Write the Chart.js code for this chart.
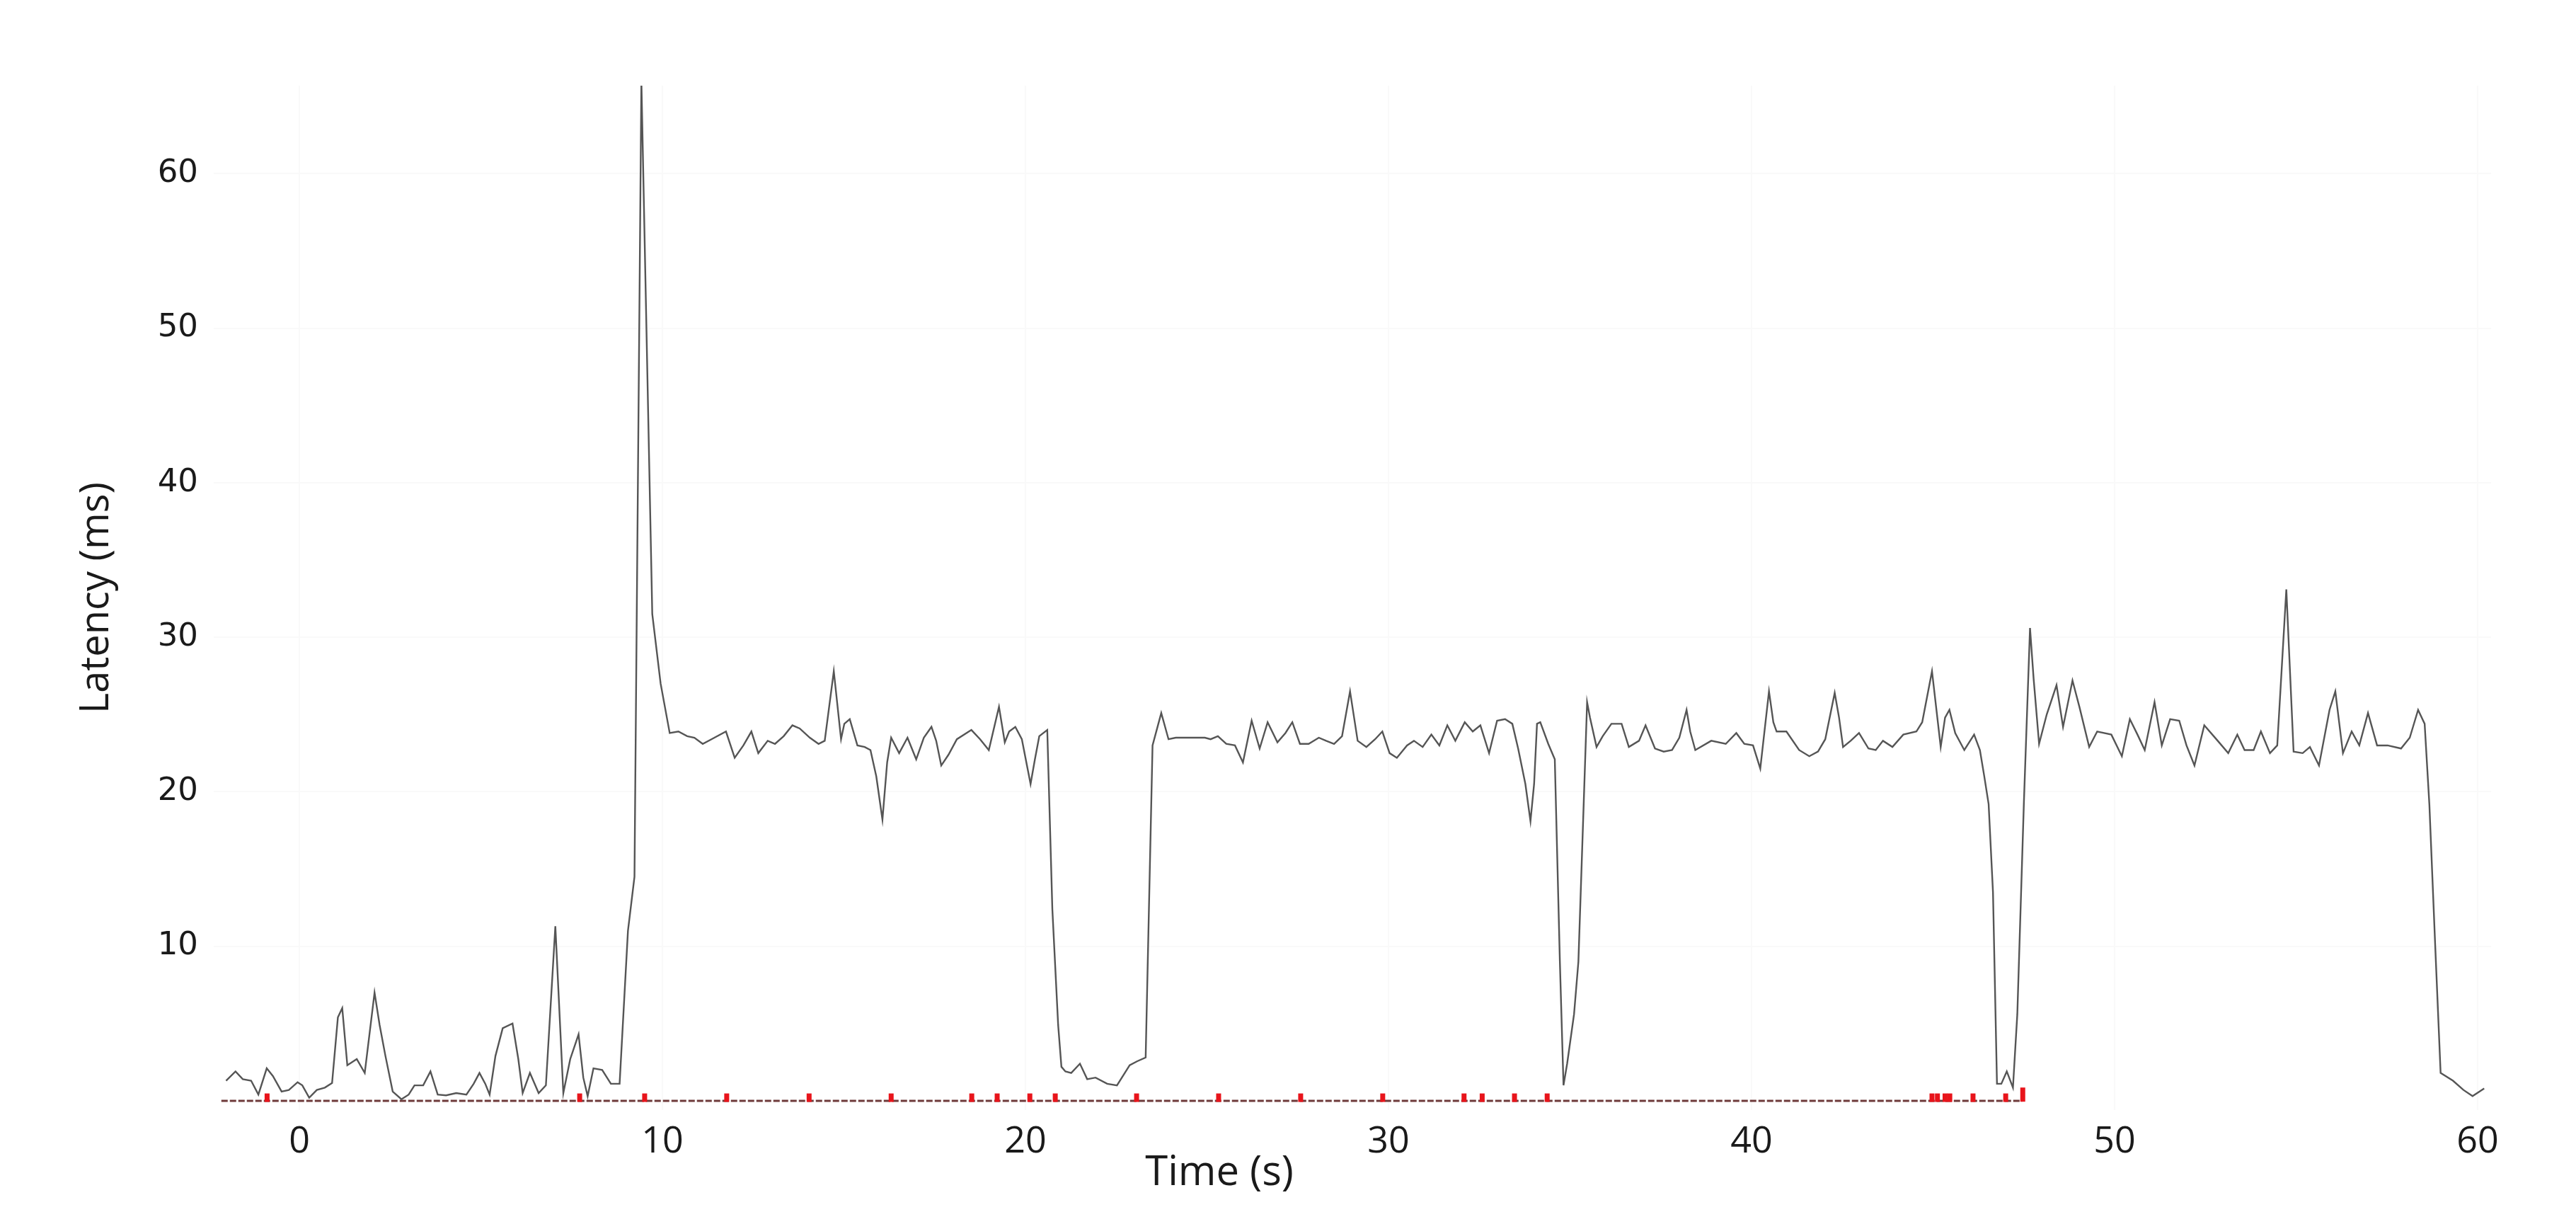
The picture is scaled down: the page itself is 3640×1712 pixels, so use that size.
<!DOCTYPE html>
<html>
<head>
<meta charset="utf-8">
<script src="https://cdn.jsdelivr.net/npm/chart.js@4.4.0/dist/chart.umd.min.js"></script>
<style>
  html, body { margin: 0; padding: 0; background: #ffffff; }
  #wrap { width: 3640px; height: 1712px; position: relative; }
</style>
</head>
<body>
<div id="wrap"><canvas id="c"></canvas></div>
<script>
// ---- Data ----
const xTitle = 'Time (s)';
const yTitle = 'Latency (ms)';
const xTickValues = [0, 10, 20, 30, 40, 50, 60];
const yTickValues = [10, 20, 30, 40, 50, 60];

const times = [
  -2.02, -1.76, -1.56, -1.33, -1.13, -0.90, -0.73, -0.49, -0.29, -0.05, 0.08, 0.27, 0.48, 0.70, 0.90,
  1.06, 1.18, 1.32, 1.58, 1.80, 2.07, 2.21, 2.37, 2.57, 2.81, 3.01, 3.17, 3.41, 3.61, 3.81,
  4.04, 4.32, 4.60, 4.80, 4.96, 5.12, 5.24, 5.40, 5.60, 5.87, 6.03, 6.15, 6.35, 6.59, 6.79,
  7.05, 7.27, 7.46, 7.69, 7.82, 7.94, 8.10, 8.34, 8.58, 8.82, 9.05, 9.23, 9.42, 9.72, 9.95,
  10.20, 10.44, 10.68, 10.88, 11.11, 11.35, 11.75, 11.99, 12.23, 12.45, 12.64, 12.90, 13.10, 13.34, 13.58,
  13.78, 14.06, 14.30, 14.47, 14.72, 14.92, 15.01, 15.16, 15.37, 15.57, 15.73, 15.89, 16.06, 16.19, 16.30,
  16.52, 16.75, 16.99, 17.20, 17.41, 17.54, 17.68, 17.88, 18.11, 18.51, 18.75, 18.99, 19.27, 19.43, 19.55,
  19.72, 19.90, 20.14, 20.26, 20.38, 20.60, 20.74, 20.90, 20.99, 21.10, 21.26, 21.50, 21.70, 21.93, 22.25,
  22.52, 22.87, 23.07, 23.31, 23.50, 23.74, 23.94, 24.14, 24.94, 25.10, 25.30, 25.53, 25.77, 25.99, 26.23,
  26.45, 26.67, 26.94, 27.16, 27.35, 27.56, 27.80, 28.08, 28.28, 28.50, 28.72, 28.94, 29.15, 29.39, 29.63,
  29.83, 30.03, 30.23, 30.51, 30.70, 30.94, 31.18, 31.40, 31.62, 31.84, 32.10, 32.32, 32.53, 32.77, 32.99,
  33.21, 33.41, 33.57, 33.77, 33.91, 34.01, 34.09, 34.18, 34.40, 34.58, 34.72, 34.82, 34.92, 35.11, 35.23,
  35.47, 35.55, 35.73, 35.90, 36.14, 36.42, 36.62, 36.90, 37.08, 37.34, 37.58, 37.81, 38.01, 38.21, 38.31,
  38.45, 38.89, 39.29, 39.58, 39.80, 40.04, 40.24, 40.48, 40.60, 40.69, 40.96, 41.31, 41.59, 41.83, 42.03,
  42.29, 42.41, 42.52, 42.73, 42.96, 43.22, 43.42, 43.62, 43.88, 44.18, 44.54, 44.70, 44.97, 45.21, 45.33,
  45.45, 45.61, 45.86, 46.13, 46.29, 46.41, 46.53, 46.65, 46.76, 46.88, 47.03, 47.20, 47.32, 47.50, 47.67,
  47.77, 47.92, 48.13, 48.40, 48.58, 48.84, 49.03, 49.30, 49.52, 49.91, 50.20, 50.42, 50.63, 50.83, 51.10,
  51.30, 51.53, 51.78, 51.98, 52.20, 52.47, 52.84, 53.13, 53.38, 53.58, 53.83, 54.03, 54.28, 54.48, 54.73,
  54.93, 55.18, 55.38, 55.63, 55.92, 56.08, 56.29, 56.53, 56.74, 56.98, 57.23, 57.52, 57.89, 58.13, 58.36,
  58.54, 58.67, 58.83, 58.98, 59.32, 59.61, 59.86, 60.18
];
const latency = [
  1.3, 1.9, 1.4, 1.3, 0.4, 2.1, 1.6, 0.6, 0.7, 1.2, 1.0, 0.2, 0.7, 0.85, 1.15,
  5.4, 6.0, 2.3, 2.7, 1.8, 7.0, 4.9, 2.9, 0.6, 0.1, 0.4, 1.0, 1.0, 1.9, 0.4,
  0.35, 0.5, 0.4, 1.1, 1.8, 1.1, 0.4, 2.9, 4.7, 5.0, 2.7, 0.5, 1.8, 0.5, 1.0,
  11.3, 0.5, 2.7, 4.3, 1.5, 0.3, 2.1, 2.0, 1.1, 1.1, 11.0, 14.5, 66.0, 31.5, 27.0,
  23.8, 23.9, 23.6, 23.5, 23.1, 23.4, 23.9, 22.2, 23.0, 23.9, 22.5, 23.3, 23.1, 23.6, 24.3,
  24.1, 23.5, 23.1, 23.3, 27.8, 23.4, 24.4, 24.7, 23.0, 22.9, 22.7, 21.0, 18.2, 21.9, 23.5,
  22.5, 23.5, 22.1, 23.5, 24.2, 23.3, 21.7, 22.4, 23.4, 24.0, 23.4, 22.7, 25.5, 23.2, 23.9,
  24.2, 23.4, 20.5, 22.1, 23.6, 24.0, 12.4, 4.9, 2.2, 1.9, 1.8, 2.4, 1.4, 1.5, 1.1,
  1.0, 2.3, 2.55, 2.8, 23.0, 25.1, 23.4, 23.5, 23.5, 23.4, 23.6, 23.1, 23.0, 21.9, 24.6,
  22.8, 24.5, 23.2, 23.8, 24.5, 23.1, 23.1, 23.5, 23.3, 23.1, 23.6, 26.5, 23.3, 22.9, 23.4,
  23.9, 22.5, 22.2, 23.0, 23.3, 22.9, 23.7, 23.0, 24.3, 23.3, 24.5, 23.9, 24.3, 22.5, 24.6,
  24.7, 24.4, 22.8, 20.5, 18.1, 20.5, 24.4, 24.5, 23.1, 22.1, 9.0, 1.0, 2.4, 5.6, 9.0,
  25.8, 24.8, 22.9, 23.6, 24.4, 24.4, 22.9, 23.3, 24.3, 22.8, 22.6, 22.7, 23.5, 25.3, 23.9,
  22.7, 23.3, 23.1, 23.8, 23.1, 23.0, 21.5, 26.5, 24.5, 23.9, 23.9, 22.7, 22.3, 22.6, 23.4,
  26.4, 24.8, 22.9, 23.3, 23.8, 22.8, 22.7, 23.3, 22.9, 23.7, 23.9, 24.5, 27.8, 22.9, 24.8,
  25.3, 23.8, 22.7, 23.7, 22.7, 21.0, 19.2, 13.5, 1.1, 1.1, 1.9, 0.85, 5.6, 19.2, 30.6,
  27.3, 23.1, 25.0, 26.9, 24.2, 27.2, 25.5, 22.9, 23.9, 23.7, 22.3, 24.7, 23.7, 22.7, 25.8,
  23.0, 24.7, 24.6, 23.0, 21.7, 24.3, 23.3, 22.5, 23.7, 22.7, 22.7, 23.9, 22.5, 23.0, 33.1,
  22.6, 22.5, 22.9, 21.7, 25.3, 26.5, 22.5, 23.9, 23.0, 25.1, 23.0, 23.0, 22.8, 23.5, 25.3,
  24.4, 19.2, 10.1, 1.8, 1.3, 0.7, 0.3, 0.8
];

// red event markers sitting on the zero line
const markerTimes = [
  -0.89, 7.72, 9.51, 11.77, 14.04, 16.30, 18.52, 19.22, 20.12, 20.82, 23.06, 25.32,
  27.58, 29.84, 32.08, 32.58, 33.47, 34.37, 44.97, 45.12, 45.33, 45.46, 46.10, 47.00, 47.47
];
const markerValues = [
  0.2, 0.2, 0.2, 0.2, 0.2, 0.2, 0.2, 0.2, 0.2, 0.2, 0.2, 0.2,
  0.2, 0.2, 0.2, 0.2, 0.2, 0.2, 0.2, 0.2, 0.2, 0.2, 0.2, 0.2, 0.4
];
// dotted zero baseline (start / end time, value)
const baselineTimes = [-2.15, 47.45];
const baselineValues = [0, 0];

// ---- Chart ----
const lineData = times.map((t, i) => ({ x: t, y: latency[i] }));
const markerData = markerTimes.map((t, i) => ({ x: t, y: markerValues[i] }));
const baseData = baselineTimes.map((t, i) => ({ x: t, y: baselineValues[i] }));

const xTitlePlugin = {
  id: 'xTitlePlugin',
  afterDraw(chart) {
    const a = chart.chartArea;
    const ctx = chart.ctx;
    ctx.save();
    ctx.font = '58px "Open Sans"';
    ctx.fillStyle = '#1a1a1a';
    ctx.textAlign = 'center';
    ctx.textBaseline = 'alphabetic';
    ctx.fillText(xTitle, a.left + 0.4416 * (a.right - a.left), a.bottom + 106);
    ctx.restore();
  }
};

new Chart(document.getElementById('c'), {
  type: 'scatter',
  data: {
    datasets: [
      {
        label: 'baseline',
        data: baseData,
        showLine: true,
        borderColor: '#6e3a3a',
        borderWidth: 3,
        borderDash: [9, 3],
        pointRadius: 0,
        order: 3
      },
      {
        label: 'latency',
        data: lineData,
        showLine: true,
        borderColor: '#555555',
        borderWidth: 2.4,
        tension: 0,
        pointRadius: 0,
        order: 2
      },
      {
        label: 'events',
        data: markerData,
        showLine: false,
        pointStyle: 'line',
        rotation: 90,
        pointRadius: (c) => (c.dataIndex === markerTimes.length - 1 ? 10 : 6),
        pointBorderWidth: 7,
        pointBorderColor: '#e8141b',
        pointBackgroundColor: '#e8141b',
        order: 1
      }
    ]
  },
  options: {
    responsive: true,
    maintainAspectRatio: false,
    devicePixelRatio: 1,
    animation: false,
    events: [],
    layout: { padding: { top: 121, right: 120, left: 0, bottom: 0 } },
    plugins: {
      legend: { display: false },
      tooltip: { enabled: false }
    },
    scales: {
      x: {
        type: 'linear',
        min: -2.36,
        max: 60.37,
        afterBuildTicks: (s) => { s.ticks = xTickValues.map(v => ({ value: v })); },
        afterFit: (s) => { s.height = 144; },
        ticks: {
          padding: 14,
          color: '#1a1a1a',
          font: { family: '"Open Sans"', size: 52 },
          maxRotation: 0,
          callback: (v) => String(v)
        },
        grid: { color: '#f9f9f9', lineWidth: 2, drawTicks: false },
        border: { display: false },
        title: { display: false }
      },
      y: {
        type: 'linear',
        min: -0.6,
        max: 65.7,
        afterBuildTicks: (s) => { s.ticks = yTickValues.map(v => ({ value: v })); },
        afterFit: (s) => { s.width = 302; },
        ticks: {
          padding: 22,
          color: '#1a1a1a',
          font: { family: '"DejaVu Sans"', size: 45 },
          callback: (v) => String(v)
        },
        grid: { color: '#f9f9f9', lineWidth: 2, drawTicks: false },
        border: { display: false },
        title: {
          display: true,
          text: yTitle,
          color: '#1a1a1a',
          font: { family: '"Open Sans"', size: 56 },
          padding: { top: 103, bottom: 0 }
        }
      }
    }
  },
  plugins: [xTitlePlugin]
});
</script>
</body>
</html>
